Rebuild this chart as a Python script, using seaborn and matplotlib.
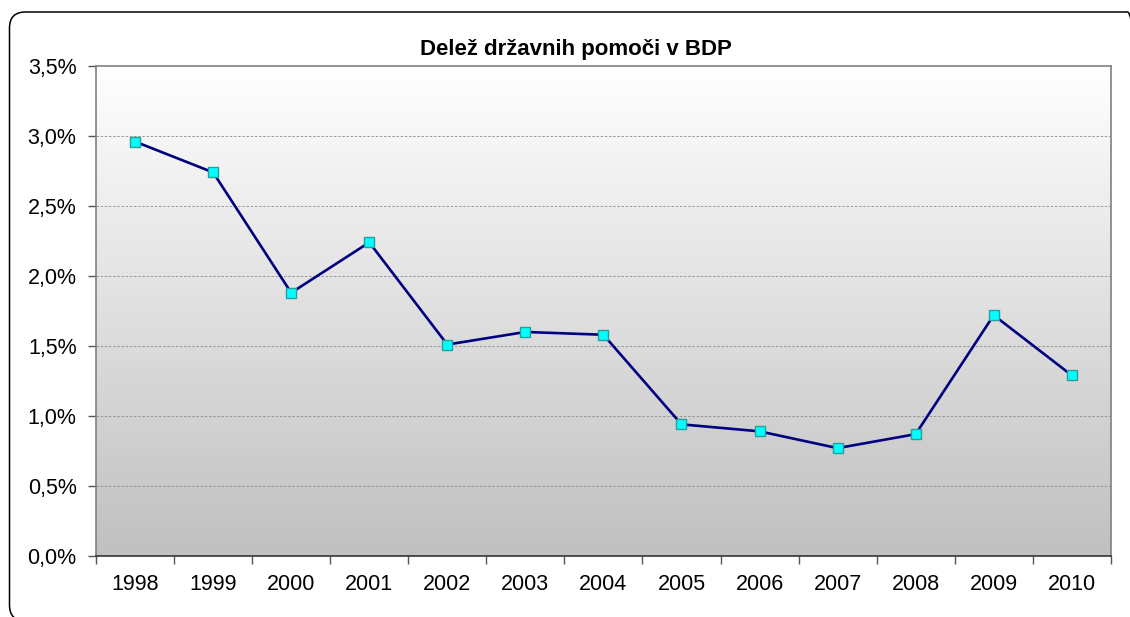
import numpy as np
import pandas as pd
import matplotlib
matplotlib.use('Agg')
from matplotlib import pyplot as plt
from matplotlib.patches import FancyBboxPatch
from matplotlib.ticker import FuncFormatter, FixedLocator
import seaborn as sns

# data
years = ['1998', '1999', '2000', '2001', '2002', '2003', '2004',
         '2005', '2006', '2007', '2008', '2009', '2010']
share = [2.96, 2.74, 1.88, 2.24, 1.51, 1.60, 1.58,
         0.94, 0.89, 0.77, 0.87, 1.72, 1.29]

df = pd.DataFrame({'year': years, 'share': share})
df['pos'] = np.arange(len(years))

sns.set_style('white')
plt.rcParams['font.family'] = ['Liberation Sans', 'DejaVu Sans']

fig = plt.figure(figsize=(11.3, 6.17), dpi=100)
ax = fig.add_axes([0.085, 0.099, 0.898, 0.794])

# outer rounded frame (in pixels, partly off the right and bottom edge)
frame = FancyBboxPatch((9.5, -4), 1134, 609,
                       boxstyle='round,pad=0,rounding_size=16',
                       transform=None, fill=False,
                       edgecolor='black', linewidth=1.1)
fig.patches.append(frame)

# gradient background of plot area
grad = np.linspace(1, 0, 256).reshape(-1, 1)
ax.imshow(grad, aspect='auto', cmap=matplotlib.colors.LinearSegmentedColormap.from_list(
    'g', ['#c0c0c0', '#ffffff']), extent=[-0.5, 12.5, 0, 3.5], zorder=0, origin='upper')

for y in [0.5, 1.0, 1.5, 2.0, 2.5, 3.0]:
    ax.axhline(y, color='#8c8c8c', linestyle=(0, (3, 2)), linewidth=0.6, zorder=1)

sns.lineplot(data=df, x='pos', y='share', ax=ax, color='#000080', linewidth=1.9,
             marker='s', markersize=7.5, markerfacecolor='#00ffff',
             markeredgecolor='#2a9d9d', markeredgewidth=1.0, zorder=3)

ax.set_xlim(-0.5, 12.5)
ax.set_ylim(0, 3.5)
ax.set_xticks(df['pos'])
ax.set_xticklabels(years)
ax.xaxis.set_minor_locator(FixedLocator(np.arange(-0.5, 13, 1)))
ax.tick_params(axis='x', which='major', bottom=True, length=0, labelsize=15.5,
               labelcolor='black', pad=13)
ax.tick_params(axis='x', which='minor', bottom=True, length=6, width=1,
               color='#555555', direction='out')
ax.set_yticks(np.arange(0, 3.51, 0.5))
ax.yaxis.set_major_formatter(FuncFormatter(lambda v, p: f'{v:.1f}%'.replace('.', ',')))
ax.tick_params(axis='y', left=True, length=6, width=1, color='#555555', direction='out',
               labelsize=15.5, labelcolor='black', pad=8)
ax.set_xlabel('')
ax.set_ylabel('')

for side in ['left', 'right', 'top']:
    ax.spines[side].set_color('#808080')
    ax.spines[side].set_linewidth(1.2)
ax.spines['bottom'].set_color('#333333')
ax.spines['bottom'].set_linewidth(1.2)

ax.set_title('Delež državnih pomoči v BDP', fontsize=16, fontweight='bold',
             color='black', pad=8, x=0.473)

fig.savefig('out.png', dpi=100)
